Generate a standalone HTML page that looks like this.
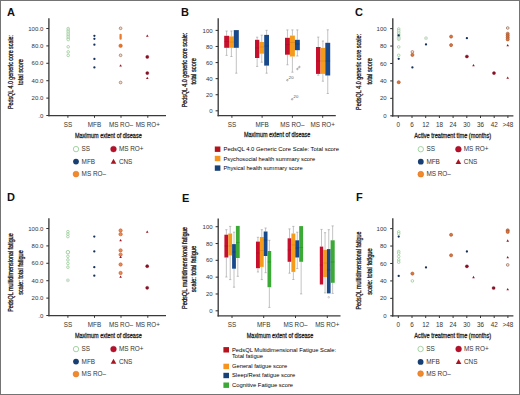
<!DOCTYPE html>
<html><head><meta charset="utf-8"><style>
html,body{margin:0;padding:0;background:#fff;}
svg{display:block;}
text{font-family:"Liberation Sans",sans-serif;}
</style></head><body>
<svg width="520" height="395" viewBox="0 0 520 395">
<rect x="0.5" y="0.5" width="519" height="394" fill="#fff" stroke="#747474" stroke-width="1"/>
<text x="7.00" y="15.80" font-size="11" font-weight="bold" fill="#111">A</text>
<text x="181.00" y="15.80" font-size="11" font-weight="bold" fill="#111">B</text>
<text x="355.00" y="15.80" font-size="11" font-weight="bold" fill="#111">C</text>
<text x="7.00" y="201.30" font-size="11" font-weight="bold" fill="#111">D</text>
<text x="182.00" y="201.60" font-size="11" font-weight="bold" fill="#111">E</text>
<text x="356.00" y="201.40" font-size="11" font-weight="bold" fill="#111">F</text>
<line x1="48.90" y1="18.30" x2="48.90" y2="116.20" stroke="#3a3a3a" stroke-width="1.35"/>
<line x1="46.30" y1="28.50" x2="48.90" y2="28.50" stroke="#333" stroke-width="1.05"/>
<text x="43.30" y="30.60" font-size="6" text-anchor="end" fill="#333">100.0</text>
<line x1="46.30" y1="45.90" x2="48.90" y2="45.90" stroke="#333" stroke-width="1.05"/>
<text x="43.30" y="48.00" font-size="6" text-anchor="end" fill="#333">80.0</text>
<line x1="46.30" y1="63.30" x2="48.90" y2="63.30" stroke="#333" stroke-width="1.05"/>
<text x="43.30" y="65.40" font-size="6" text-anchor="end" fill="#333">60.0</text>
<line x1="46.30" y1="80.70" x2="48.90" y2="80.70" stroke="#333" stroke-width="1.05"/>
<text x="43.30" y="82.80" font-size="6" text-anchor="end" fill="#333">40.0</text>
<line x1="46.30" y1="98.10" x2="48.90" y2="98.10" stroke="#333" stroke-width="1.05"/>
<text x="43.30" y="100.20" font-size="6" text-anchor="end" fill="#333">20.0</text>
<line x1="46.30" y1="115.50" x2="48.90" y2="115.50" stroke="#333" stroke-width="1.05"/>
<text x="43.30" y="117.60" font-size="6" text-anchor="end" fill="#333">.0</text>
<line x1="48.30" y1="115.60" x2="166.00" y2="115.60" stroke="#3a3a3a" stroke-width="1.35"/>
<line x1="67.90" y1="115.60" x2="67.90" y2="117.80" stroke="#333" stroke-width="1.0"/>
<text x="67.90" y="127.30" font-size="6.3" text-anchor="middle" fill="#333">SS</text>
<line x1="94.50" y1="115.60" x2="94.50" y2="117.80" stroke="#333" stroke-width="1.0"/>
<text x="94.50" y="127.30" font-size="6.3" text-anchor="middle" fill="#333">MFB</text>
<line x1="121.00" y1="115.60" x2="121.00" y2="117.80" stroke="#333" stroke-width="1.0"/>
<text x="121.00" y="127.30" font-size="6.3" text-anchor="middle" fill="#333">MS RO–</text>
<line x1="147.80" y1="115.60" x2="147.80" y2="117.80" stroke="#333" stroke-width="1.0"/>
<text x="147.80" y="127.30" font-size="6.3" text-anchor="middle" fill="#333">MS RO+</text>
<text x="74.90" y="137.60" font-size="7.8" fill="#1e1e1e" stroke="#1e1e1e" stroke-width="0.3" textLength="66.80" lengthAdjust="spacingAndGlyphs">Maximum extent of disease</text>
<g transform="translate(13.40 72.00) rotate(-90)"><text x="0" y="0" font-size="7.0" text-anchor="middle" fill="#222" stroke="#222" stroke-width="0.32" textLength="74.00" lengthAdjust="spacingAndGlyphs">PedsQL 4.0 generic core scale:</text></g>
<g transform="translate(22.80 72.00) rotate(-90)"><text x="0" y="0" font-size="7.0" text-anchor="middle" fill="#222" stroke="#222" stroke-width="0.32" textLength="26.00" lengthAdjust="spacingAndGlyphs">total score</text></g>
<circle cx="68.20" cy="28.60" r="1.30" fill="#ffffff" stroke="#90c890" stroke-width="0.75"/>
<circle cx="68.20" cy="30.20" r="1.30" fill="#ffffff" stroke="#90c890" stroke-width="0.75"/>
<circle cx="68.20" cy="31.80" r="1.30" fill="#ffffff" stroke="#90c890" stroke-width="0.75"/>
<circle cx="68.20" cy="33.40" r="1.30" fill="#ffffff" stroke="#90c890" stroke-width="0.75"/>
<circle cx="68.20" cy="35.00" r="1.30" fill="#ffffff" stroke="#90c890" stroke-width="0.75"/>
<circle cx="68.20" cy="36.60" r="1.30" fill="#ffffff" stroke="#90c890" stroke-width="0.75"/>
<circle cx="68.20" cy="38.20" r="1.30" fill="#ffffff" stroke="#90c890" stroke-width="0.75"/>
<circle cx="68.20" cy="39.60" r="1.30" fill="#ffffff" stroke="#90c890" stroke-width="0.75"/>
<circle cx="68.20" cy="46.80" r="1.30" fill="#ffffff" stroke="#90c890" stroke-width="0.75"/>
<circle cx="68.20" cy="51.90" r="1.30" fill="#ffffff" stroke="#90c890" stroke-width="0.75"/>
<circle cx="68.20" cy="55.40" r="1.30" fill="#ffffff" stroke="#90c890" stroke-width="0.75"/>
<circle cx="94.40" cy="35.80" r="1.15" fill="#172f5c"/>
<circle cx="94.40" cy="38.80" r="1.15" fill="#172f5c"/>
<circle cx="94.40" cy="44.70" r="1.15" fill="#172f5c"/>
<circle cx="94.40" cy="58.90" r="1.15" fill="#172f5c"/>
<circle cx="94.40" cy="67.40" r="1.15" fill="#172f5c"/>
<circle cx="120.60" cy="28.30" r="1.35" fill="#f6dccb" stroke="#9c7462" stroke-width="0.75"/>
<circle cx="120.60" cy="34.90" r="1.15" fill="#ea7a2c"/>
<circle cx="120.60" cy="36.20" r="1.15" fill="#ea7a2c"/>
<circle cx="120.60" cy="37.50" r="1.15" fill="#ea7a2c"/>
<circle cx="120.60" cy="38.70" r="1.15" fill="#ea7a2c"/>
<circle cx="120.60" cy="45.80" r="1.75" fill="#ec7424" stroke="#c8561c" stroke-width="0.5"/>
<circle cx="120.60" cy="55.30" r="1.35" fill="#f6dccb" stroke="#9c7462" stroke-width="0.75"/>
<polygon points="120.60,64.23 121.90,66.57 119.30,66.57" fill="#9b1420"/>
<circle cx="120.60" cy="82.50" r="1.35" fill="#f6dccb" stroke="#9c7462" stroke-width="0.75"/>
<polygon points="147.30,34.43 148.60,36.77 146.00,36.77" fill="#9b1420"/>
<circle cx="147.30" cy="56.90" r="1.60" fill="#8e0f25" stroke="#6a0a1a" stroke-width="0.3"/>
<circle cx="147.30" cy="73.10" r="1.60" fill="#8e0f25" stroke="#6a0a1a" stroke-width="0.3"/>
<polygon points="147.30,76.63 148.60,78.97 146.00,78.97" fill="#9b1420"/>
<circle cx="76.00" cy="149.10" r="2.70" fill="#fff" stroke="#94cc94" stroke-width="0.85"/>
<text x="81.60" y="151.30" font-size="6.4" fill="#333">SS</text>
<circle cx="113.50" cy="149.10" r="2.90" fill="#b8102a" stroke="#8a0a20" stroke-width="0.4"/>
<text x="118.90" y="151.30" font-size="6.4" fill="#333">MS RO+</text>
<circle cx="76.00" cy="161.60" r="2.90" fill="#183f74"/>
<text x="81.60" y="163.80" font-size="6.4" fill="#333">MFB</text>
<polygon points="113.50,158.78 116.30,163.82 110.70,163.82" fill="#a8141f"/>
<text x="118.90" y="163.80" font-size="6.4" fill="#333">CNS</text>
<circle cx="76.00" cy="174.10" r="2.90" fill="#f08a2a" stroke="#e06a20" stroke-width="0.5"/>
<text x="81.60" y="176.30" font-size="6.4" fill="#333">MS RO–</text>
<line x1="48.90" y1="218.30" x2="48.90" y2="316.20" stroke="#3a3a3a" stroke-width="1.35"/>
<line x1="46.30" y1="228.50" x2="48.90" y2="228.50" stroke="#333" stroke-width="1.05"/>
<text x="43.30" y="230.60" font-size="6" text-anchor="end" fill="#333">100.0</text>
<line x1="46.30" y1="245.90" x2="48.90" y2="245.90" stroke="#333" stroke-width="1.05"/>
<text x="43.30" y="248.00" font-size="6" text-anchor="end" fill="#333">80.0</text>
<line x1="46.30" y1="263.30" x2="48.90" y2="263.30" stroke="#333" stroke-width="1.05"/>
<text x="43.30" y="265.40" font-size="6" text-anchor="end" fill="#333">60.0</text>
<line x1="46.30" y1="280.70" x2="48.90" y2="280.70" stroke="#333" stroke-width="1.05"/>
<text x="43.30" y="282.80" font-size="6" text-anchor="end" fill="#333">40.0</text>
<line x1="46.30" y1="298.10" x2="48.90" y2="298.10" stroke="#333" stroke-width="1.05"/>
<text x="43.30" y="300.20" font-size="6" text-anchor="end" fill="#333">20.0</text>
<line x1="46.30" y1="315.50" x2="48.90" y2="315.50" stroke="#333" stroke-width="1.05"/>
<text x="43.30" y="317.60" font-size="6" text-anchor="end" fill="#333">.0</text>
<line x1="48.30" y1="315.60" x2="166.00" y2="315.60" stroke="#3a3a3a" stroke-width="1.35"/>
<line x1="67.90" y1="315.60" x2="67.90" y2="317.80" stroke="#333" stroke-width="1.0"/>
<text x="67.90" y="327.30" font-size="6.3" text-anchor="middle" fill="#333">SS</text>
<line x1="94.50" y1="315.60" x2="94.50" y2="317.80" stroke="#333" stroke-width="1.0"/>
<text x="94.50" y="327.30" font-size="6.3" text-anchor="middle" fill="#333">MFB</text>
<line x1="121.00" y1="315.60" x2="121.00" y2="317.80" stroke="#333" stroke-width="1.0"/>
<text x="121.00" y="327.30" font-size="6.3" text-anchor="middle" fill="#333">MS RO–</text>
<line x1="147.80" y1="315.60" x2="147.80" y2="317.80" stroke="#333" stroke-width="1.0"/>
<text x="147.80" y="327.30" font-size="6.3" text-anchor="middle" fill="#333">MS RO+</text>
<text x="74.90" y="337.60" font-size="7.8" fill="#1e1e1e" stroke="#1e1e1e" stroke-width="0.3" textLength="66.80" lengthAdjust="spacingAndGlyphs">Maximum extent of disease</text>
<g transform="translate(13.40 272.50) rotate(-90)"><text x="0" y="0" font-size="7.0" text-anchor="middle" fill="#222" stroke="#222" stroke-width="0.32" textLength="78.60" lengthAdjust="spacingAndGlyphs">PedsQL multidimensional fatigue</text></g>
<g transform="translate(22.80 272.50) rotate(-90)"><text x="0" y="0" font-size="7.0" text-anchor="middle" fill="#222" stroke="#222" stroke-width="0.32" textLength="44.40" lengthAdjust="spacingAndGlyphs">scale: total fatigue</text></g>
<circle cx="67.90" cy="231.70" r="1.30" fill="#ffffff" stroke="#90c890" stroke-width="0.75"/>
<circle cx="67.90" cy="234.20" r="1.30" fill="#ffffff" stroke="#90c890" stroke-width="0.75"/>
<circle cx="67.90" cy="236.60" r="1.30" fill="#ffffff" stroke="#90c890" stroke-width="0.75"/>
<circle cx="67.90" cy="252.20" r="1.75" fill="#ffffff" stroke="#8cc28c" stroke-width="0.8"/>
<circle cx="67.90" cy="256.30" r="1.30" fill="#ffffff" stroke="#90c890" stroke-width="0.75"/>
<circle cx="67.90" cy="259.90" r="1.30" fill="#ffffff" stroke="#90c890" stroke-width="0.75"/>
<circle cx="67.90" cy="263.50" r="1.30" fill="#ffffff" stroke="#90c890" stroke-width="0.75"/>
<circle cx="67.90" cy="267.20" r="1.30" fill="#ffffff" stroke="#90c890" stroke-width="0.75"/>
<circle cx="67.90" cy="280.30" r="1.60" fill="#d2e2d2" stroke="#bcd8bc" stroke-width="0.5"/>
<circle cx="94.30" cy="236.60" r="1.15" fill="#172f5c"/>
<circle cx="94.30" cy="251.40" r="1.15" fill="#172f5c"/>
<circle cx="94.30" cy="267.20" r="1.15" fill="#172f5c"/>
<circle cx="94.30" cy="275.70" r="1.15" fill="#172f5c"/>
<circle cx="120.60" cy="230.50" r="1.65" fill="#ee8c50" stroke="#b8542e" stroke-width="0.6"/>
<circle cx="120.60" cy="234.20" r="1.65" fill="#ee8c50" stroke="#b8542e" stroke-width="0.6"/>
<polygon points="120.60,239.03 121.90,241.37 119.30,241.37" fill="#9b1420"/>
<circle cx="120.60" cy="250.40" r="1.65" fill="#ee8c50" stroke="#b8542e" stroke-width="0.6"/>
<circle cx="120.60" cy="254.60" r="1.65" fill="#ee8c50" stroke="#b8542e" stroke-width="0.6"/>
<polygon points="120.60,255.63 121.90,257.97 119.30,257.97" fill="#9b1420"/>
<circle cx="120.60" cy="264.50" r="1.65" fill="#ee8c50" stroke="#b8542e" stroke-width="0.6"/>
<circle cx="120.60" cy="273.00" r="1.65" fill="#ee8c50" stroke="#b8542e" stroke-width="0.6"/>
<polygon points="120.60,275.53 121.90,277.87 119.30,277.87" fill="#9b1420"/>
<polygon points="147.20,230.53 148.50,232.87 145.90,232.87" fill="#9b1420"/>
<circle cx="147.20" cy="266.20" r="1.60" fill="#8e0f25" stroke="#6a0a1a" stroke-width="0.3"/>
<circle cx="147.20" cy="287.80" r="1.60" fill="#8e0f25" stroke="#6a0a1a" stroke-width="0.3"/>
<circle cx="76.00" cy="349.10" r="2.70" fill="#fff" stroke="#94cc94" stroke-width="0.85"/>
<text x="81.60" y="351.30" font-size="6.4" fill="#333">SS</text>
<circle cx="113.50" cy="349.10" r="2.90" fill="#b8102a" stroke="#8a0a20" stroke-width="0.4"/>
<text x="118.90" y="351.30" font-size="6.4" fill="#333">MS RO+</text>
<circle cx="76.00" cy="361.60" r="2.90" fill="#183f74"/>
<text x="81.60" y="363.80" font-size="6.4" fill="#333">MFB</text>
<polygon points="113.50,358.78 116.30,363.82 110.70,363.82" fill="#a8141f"/>
<text x="118.90" y="363.80" font-size="6.4" fill="#333">CNS</text>
<circle cx="76.00" cy="374.10" r="2.90" fill="#f08a2a" stroke="#e06a20" stroke-width="0.5"/>
<text x="81.60" y="376.30" font-size="6.4" fill="#333">MS RO–</text>
<line x1="392.80" y1="18.30" x2="392.80" y2="116.40" stroke="#3a3a3a" stroke-width="1.35"/>
<line x1="390.20" y1="28.60" x2="392.80" y2="28.60" stroke="#333" stroke-width="1.05"/>
<text x="386.60" y="30.70" font-size="6" text-anchor="end" fill="#333">100</text>
<line x1="390.20" y1="46.04" x2="392.80" y2="46.04" stroke="#333" stroke-width="1.05"/>
<text x="386.60" y="48.14" font-size="6" text-anchor="end" fill="#333">80</text>
<line x1="390.20" y1="63.48" x2="392.80" y2="63.48" stroke="#333" stroke-width="1.05"/>
<text x="386.60" y="65.58" font-size="6" text-anchor="end" fill="#333">60</text>
<line x1="390.20" y1="80.92" x2="392.80" y2="80.92" stroke="#333" stroke-width="1.05"/>
<text x="386.60" y="83.02" font-size="6" text-anchor="end" fill="#333">40</text>
<line x1="390.20" y1="98.36" x2="392.80" y2="98.36" stroke="#333" stroke-width="1.05"/>
<text x="386.60" y="100.46" font-size="6" text-anchor="end" fill="#333">20</text>
<line x1="390.20" y1="115.80" x2="392.80" y2="115.80" stroke="#333" stroke-width="1.05"/>
<text x="386.60" y="117.90" font-size="6" text-anchor="end" fill="#333">0</text>
<line x1="391.80" y1="115.80" x2="513.40" y2="115.80" stroke="#3a3a3a" stroke-width="1.35"/>
<line x1="398.30" y1="115.80" x2="398.30" y2="118.00" stroke="#333" stroke-width="1.0"/>
<text x="398.30" y="127.30" font-size="6.3" text-anchor="middle" fill="#333">0</text>
<line x1="412.00" y1="115.80" x2="412.00" y2="118.00" stroke="#333" stroke-width="1.0"/>
<text x="412.00" y="127.30" font-size="6.3" text-anchor="middle" fill="#333">6</text>
<line x1="425.70" y1="115.80" x2="425.70" y2="118.00" stroke="#333" stroke-width="1.0"/>
<text x="425.70" y="127.30" font-size="6.3" text-anchor="middle" fill="#333">12</text>
<line x1="439.40" y1="115.80" x2="439.40" y2="118.00" stroke="#333" stroke-width="1.0"/>
<text x="439.40" y="127.30" font-size="6.3" text-anchor="middle" fill="#333">18</text>
<line x1="453.10" y1="115.80" x2="453.10" y2="118.00" stroke="#333" stroke-width="1.0"/>
<text x="453.10" y="127.30" font-size="6.3" text-anchor="middle" fill="#333">24</text>
<line x1="466.80" y1="115.80" x2="466.80" y2="118.00" stroke="#333" stroke-width="1.0"/>
<text x="466.80" y="127.30" font-size="6.3" text-anchor="middle" fill="#333">30</text>
<line x1="480.50" y1="115.80" x2="480.50" y2="118.00" stroke="#333" stroke-width="1.0"/>
<text x="480.50" y="127.30" font-size="6.3" text-anchor="middle" fill="#333">36</text>
<line x1="494.20" y1="115.80" x2="494.20" y2="118.00" stroke="#333" stroke-width="1.0"/>
<text x="494.20" y="127.30" font-size="6.3" text-anchor="middle" fill="#333">42</text>
<line x1="507.90" y1="115.80" x2="507.90" y2="118.00" stroke="#333" stroke-width="1.0"/>
<text x="507.90" y="127.30" font-size="6.3" text-anchor="middle" fill="#333">&gt;48</text>
<text x="414.30" y="137.70" font-size="7.8" fill="#1e1e1e" stroke="#1e1e1e" stroke-width="0.3" textLength="76.80" lengthAdjust="spacingAndGlyphs">Active treatment time (months)</text>
<g transform="translate(361.20 71.90) rotate(-90)"><text x="0" y="0" font-size="7.0" text-anchor="middle" fill="#222" stroke="#222" stroke-width="0.32" textLength="76.00" lengthAdjust="spacingAndGlyphs">PedsQL 4.0 generic core scale:</text></g>
<g transform="translate(371.80 71.30) rotate(-90)"><text x="0" y="0" font-size="7.0" text-anchor="middle" fill="#222" stroke="#222" stroke-width="0.32" textLength="26.60" lengthAdjust="spacingAndGlyphs">total score</text></g>
<circle cx="398.70" cy="29.00" r="1.30" fill="#ffffff" stroke="#90c890" stroke-width="0.75"/>
<circle cx="398.70" cy="30.70" r="1.30" fill="#ffffff" stroke="#90c890" stroke-width="0.75"/>
<circle cx="398.70" cy="32.40" r="1.30" fill="#ffffff" stroke="#90c890" stroke-width="0.75"/>
<circle cx="398.70" cy="34.10" r="1.30" fill="#ffffff" stroke="#90c890" stroke-width="0.75"/>
<circle cx="398.70" cy="35.80" r="1.30" fill="#ffffff" stroke="#90c890" stroke-width="0.75"/>
<circle cx="398.70" cy="37.50" r="1.30" fill="#ffffff" stroke="#90c890" stroke-width="0.75"/>
<circle cx="398.70" cy="39.20" r="1.30" fill="#ffffff" stroke="#90c890" stroke-width="0.75"/>
<circle cx="398.70" cy="35.50" r="1.15" fill="#172f5c"/>
<circle cx="398.70" cy="38.40" r="1.60" fill="#d2e2d2" stroke="#bcd8bc" stroke-width="0.5"/>
<circle cx="398.70" cy="46.90" r="1.30" fill="#ffffff" stroke="#90c890" stroke-width="0.75"/>
<circle cx="398.70" cy="55.30" r="1.30" fill="#ffffff" stroke="#90c890" stroke-width="0.75"/>
<circle cx="398.70" cy="58.80" r="1.15" fill="#172f5c"/>
<circle cx="398.70" cy="82.20" r="1.55" fill="#de7638" stroke="#a4502c" stroke-width="0.6"/>
<circle cx="412.40" cy="51.90" r="1.35" fill="#f6dccb" stroke="#9c7462" stroke-width="0.75"/>
<circle cx="412.40" cy="54.90" r="1.55" fill="#de7638" stroke="#a4502c" stroke-width="0.6"/>
<circle cx="412.40" cy="67.40" r="1.15" fill="#172f5c"/>
<circle cx="426.00" cy="38.20" r="1.60" fill="#d2e2d2" stroke="#bcd8bc" stroke-width="0.5"/>
<circle cx="426.00" cy="44.40" r="1.15" fill="#172f5c"/>
<circle cx="451.10" cy="36.60" r="1.55" fill="#de7638" stroke="#a4502c" stroke-width="0.6"/>
<circle cx="451.10" cy="45.10" r="1.55" fill="#de7638" stroke="#a4502c" stroke-width="0.6"/>
<circle cx="466.90" cy="38.20" r="1.15" fill="#172f5c"/>
<circle cx="466.90" cy="56.50" r="1.60" fill="#8e0f25" stroke="#6a0a1a" stroke-width="0.3"/>
<polygon points="473.50,63.93 474.80,66.27 472.20,66.27" fill="#9b1420"/>
<circle cx="494.00" cy="73.10" r="1.60" fill="#8e0f25" stroke="#6a0a1a" stroke-width="0.3"/>
<circle cx="507.70" cy="28.00" r="1.35" fill="#f6dccb" stroke="#9c7462" stroke-width="0.75"/>
<circle cx="507.70" cy="33.70" r="1.55" fill="#de7638" stroke="#a4502c" stroke-width="0.6"/>
<circle cx="507.70" cy="35.60" r="1.55" fill="#de7638" stroke="#a4502c" stroke-width="0.6"/>
<circle cx="507.70" cy="37.50" r="1.55" fill="#de7638" stroke="#a4502c" stroke-width="0.6"/>
<circle cx="507.70" cy="39.40" r="1.55" fill="#de7638" stroke="#a4502c" stroke-width="0.6"/>
<polygon points="507.70,43.93 509.00,46.27 506.40,46.27" fill="#9b1420"/>
<polygon points="507.70,76.53 509.00,78.87 506.40,78.87" fill="#9b1420"/>
<circle cx="420.80" cy="149.20" r="2.70" fill="#fff" stroke="#94cc94" stroke-width="0.85"/>
<text x="426.40" y="151.40" font-size="6.4" fill="#333">SS</text>
<circle cx="458.40" cy="149.20" r="2.90" fill="#b8102a" stroke="#8a0a20" stroke-width="0.4"/>
<text x="463.80" y="151.40" font-size="6.4" fill="#333">MS RO+</text>
<circle cx="420.80" cy="161.70" r="2.90" fill="#183f74"/>
<text x="426.40" y="163.90" font-size="6.4" fill="#333">MFB</text>
<polygon points="458.40,158.88 461.20,163.92 455.60,163.92" fill="#a8141f"/>
<text x="463.80" y="163.90" font-size="6.4" fill="#333">CNS</text>
<circle cx="420.80" cy="174.20" r="2.90" fill="#f08a2a" stroke="#e06a20" stroke-width="0.5"/>
<text x="426.40" y="176.40" font-size="6.4" fill="#333">MS RO–</text>
<line x1="392.80" y1="218.30" x2="392.80" y2="316.40" stroke="#3a3a3a" stroke-width="1.35"/>
<line x1="390.20" y1="228.60" x2="392.80" y2="228.60" stroke="#333" stroke-width="1.05"/>
<text x="386.60" y="230.70" font-size="6" text-anchor="end" fill="#333">100</text>
<line x1="390.20" y1="246.04" x2="392.80" y2="246.04" stroke="#333" stroke-width="1.05"/>
<text x="386.60" y="248.14" font-size="6" text-anchor="end" fill="#333">80</text>
<line x1="390.20" y1="263.48" x2="392.80" y2="263.48" stroke="#333" stroke-width="1.05"/>
<text x="386.60" y="265.58" font-size="6" text-anchor="end" fill="#333">60</text>
<line x1="390.20" y1="280.92" x2="392.80" y2="280.92" stroke="#333" stroke-width="1.05"/>
<text x="386.60" y="283.02" font-size="6" text-anchor="end" fill="#333">40</text>
<line x1="390.20" y1="298.36" x2="392.80" y2="298.36" stroke="#333" stroke-width="1.05"/>
<text x="386.60" y="300.46" font-size="6" text-anchor="end" fill="#333">20</text>
<line x1="390.20" y1="315.80" x2="392.80" y2="315.80" stroke="#333" stroke-width="1.05"/>
<text x="386.60" y="317.90" font-size="6" text-anchor="end" fill="#333">0</text>
<line x1="391.80" y1="315.80" x2="513.40" y2="315.80" stroke="#3a3a3a" stroke-width="1.35"/>
<line x1="398.30" y1="315.80" x2="398.30" y2="318.00" stroke="#333" stroke-width="1.0"/>
<text x="398.30" y="327.30" font-size="6.3" text-anchor="middle" fill="#333">0</text>
<line x1="412.00" y1="315.80" x2="412.00" y2="318.00" stroke="#333" stroke-width="1.0"/>
<text x="412.00" y="327.30" font-size="6.3" text-anchor="middle" fill="#333">6</text>
<line x1="425.70" y1="315.80" x2="425.70" y2="318.00" stroke="#333" stroke-width="1.0"/>
<text x="425.70" y="327.30" font-size="6.3" text-anchor="middle" fill="#333">12</text>
<line x1="439.40" y1="315.80" x2="439.40" y2="318.00" stroke="#333" stroke-width="1.0"/>
<text x="439.40" y="327.30" font-size="6.3" text-anchor="middle" fill="#333">18</text>
<line x1="453.10" y1="315.80" x2="453.10" y2="318.00" stroke="#333" stroke-width="1.0"/>
<text x="453.10" y="327.30" font-size="6.3" text-anchor="middle" fill="#333">24</text>
<line x1="466.80" y1="315.80" x2="466.80" y2="318.00" stroke="#333" stroke-width="1.0"/>
<text x="466.80" y="327.30" font-size="6.3" text-anchor="middle" fill="#333">30</text>
<line x1="480.50" y1="315.80" x2="480.50" y2="318.00" stroke="#333" stroke-width="1.0"/>
<text x="480.50" y="327.30" font-size="6.3" text-anchor="middle" fill="#333">36</text>
<line x1="494.20" y1="315.80" x2="494.20" y2="318.00" stroke="#333" stroke-width="1.0"/>
<text x="494.20" y="327.30" font-size="6.3" text-anchor="middle" fill="#333">42</text>
<line x1="507.90" y1="315.80" x2="507.90" y2="318.00" stroke="#333" stroke-width="1.0"/>
<text x="507.90" y="327.30" font-size="6.3" text-anchor="middle" fill="#333">&gt;48</text>
<text x="414.30" y="337.90" font-size="7.8" fill="#1e1e1e" stroke="#1e1e1e" stroke-width="0.3" textLength="76.80" lengthAdjust="spacingAndGlyphs">Active treatment time (months)</text>
<g transform="translate(361.20 270.50) rotate(-90)"><text x="0" y="0" font-size="7.0" text-anchor="middle" fill="#222" stroke="#222" stroke-width="0.32" textLength="78.00" lengthAdjust="spacingAndGlyphs">PedsQL multidimensional fatigue</text></g>
<g transform="translate(371.80 271.50) rotate(-90)"><text x="0" y="0" font-size="7.0" text-anchor="middle" fill="#222" stroke="#222" stroke-width="0.32" textLength="46.60" lengthAdjust="spacingAndGlyphs">scale: total fatigue</text></g>
<circle cx="398.70" cy="231.90" r="1.30" fill="#ffffff" stroke="#90c890" stroke-width="0.75"/>
<circle cx="398.70" cy="233.70" r="1.30" fill="#ffffff" stroke="#90c890" stroke-width="0.75"/>
<circle cx="398.70" cy="236.60" r="1.15" fill="#172f5c"/>
<circle cx="398.70" cy="251.50" r="1.30" fill="#ffffff" stroke="#90c890" stroke-width="0.75"/>
<circle cx="398.70" cy="253.20" r="1.30" fill="#ffffff" stroke="#90c890" stroke-width="0.75"/>
<circle cx="398.70" cy="256.50" r="1.30" fill="#ffffff" stroke="#90c890" stroke-width="0.75"/>
<circle cx="398.70" cy="259.90" r="1.30" fill="#ffffff" stroke="#90c890" stroke-width="0.75"/>
<circle cx="398.70" cy="262.20" r="1.30" fill="#ffffff" stroke="#90c890" stroke-width="0.75"/>
<circle cx="398.70" cy="275.90" r="1.15" fill="#172f5c"/>
<circle cx="412.40" cy="273.60" r="1.55" fill="#de7638" stroke="#a4502c" stroke-width="0.6"/>
<circle cx="412.40" cy="280.90" r="1.30" fill="#ffffff" stroke="#90c890" stroke-width="0.75"/>
<circle cx="426.00" cy="267.40" r="1.15" fill="#172f5c"/>
<circle cx="451.10" cy="234.80" r="1.55" fill="#de7638" stroke="#a4502c" stroke-width="0.6"/>
<circle cx="451.10" cy="255.30" r="1.55" fill="#de7638" stroke="#a4502c" stroke-width="0.6"/>
<circle cx="466.90" cy="251.50" r="1.15" fill="#172f5c"/>
<circle cx="466.90" cy="266.30" r="1.60" fill="#8e0f25" stroke="#6a0a1a" stroke-width="0.3"/>
<polygon points="473.50,275.83 474.80,278.17 472.20,278.17" fill="#9b1420"/>
<circle cx="493.60" cy="288.00" r="1.60" fill="#8e0f25" stroke="#6a0a1a" stroke-width="0.3"/>
<circle cx="507.70" cy="230.30" r="1.55" fill="#de7638" stroke="#a4502c" stroke-width="0.6"/>
<circle cx="507.70" cy="231.90" r="1.55" fill="#de7638" stroke="#a4502c" stroke-width="0.6"/>
<polygon points="507.70,239.33 509.00,241.67 506.40,241.67" fill="#9b1420"/>
<polygon points="507.70,256.03 509.00,258.37 506.40,258.37" fill="#9b1420"/>
<circle cx="507.70" cy="264.90" r="1.35" fill="#f6dccb" stroke="#9c7462" stroke-width="0.75"/>
<polygon points="507.70,287.93 509.00,290.27 506.40,290.27" fill="#9b1420"/>
<circle cx="420.60" cy="349.00" r="2.70" fill="#fff" stroke="#94cc94" stroke-width="0.85"/>
<text x="426.20" y="351.20" font-size="6.4" fill="#333">SS</text>
<circle cx="458.60" cy="349.00" r="2.90" fill="#b8102a" stroke="#8a0a20" stroke-width="0.4"/>
<text x="464.00" y="351.20" font-size="6.4" fill="#333">MS RO+</text>
<circle cx="420.60" cy="361.90" r="2.90" fill="#183f74"/>
<text x="426.20" y="364.10" font-size="6.4" fill="#333">MFB</text>
<polygon points="458.60,359.08 461.40,364.12 455.80,364.12" fill="#a8141f"/>
<text x="464.00" y="364.10" font-size="6.4" fill="#333">CNS</text>
<circle cx="420.60" cy="373.60" r="2.90" fill="#f08a2a" stroke="#e06a20" stroke-width="0.5"/>
<text x="426.20" y="375.80" font-size="6.4" fill="#333">MS RO–</text>
<line x1="218.20" y1="18.30" x2="218.20" y2="116.20" stroke="#3a3a3a" stroke-width="1.35"/>
<line x1="215.60" y1="30.40" x2="218.20" y2="30.40" stroke="#333" stroke-width="1.05"/>
<text x="212.60" y="32.50" font-size="6" text-anchor="end" fill="#333">100</text>
<line x1="215.60" y1="46.48" x2="218.20" y2="46.48" stroke="#333" stroke-width="1.05"/>
<text x="212.60" y="48.58" font-size="6" text-anchor="end" fill="#333">80</text>
<line x1="215.60" y1="62.56" x2="218.20" y2="62.56" stroke="#333" stroke-width="1.05"/>
<text x="212.60" y="64.66" font-size="6" text-anchor="end" fill="#333">60</text>
<line x1="215.60" y1="78.64" x2="218.20" y2="78.64" stroke="#333" stroke-width="1.05"/>
<text x="212.60" y="80.74" font-size="6" text-anchor="end" fill="#333">40</text>
<line x1="215.60" y1="94.72" x2="218.20" y2="94.72" stroke="#333" stroke-width="1.05"/>
<text x="212.60" y="96.82" font-size="6" text-anchor="end" fill="#333">20</text>
<line x1="215.60" y1="110.80" x2="218.20" y2="110.80" stroke="#333" stroke-width="1.05"/>
<text x="212.60" y="112.90" font-size="6" text-anchor="end" fill="#333">0</text>
<line x1="217.60" y1="115.60" x2="335.80" y2="115.60" stroke="#3a3a3a" stroke-width="1.35"/>
<line x1="231.90" y1="115.60" x2="231.90" y2="117.80" stroke="#333" stroke-width="1.0"/>
<text x="231.90" y="127.30" font-size="6.3" text-anchor="middle" fill="#333">SS</text>
<line x1="262.10" y1="115.60" x2="262.10" y2="117.80" stroke="#333" stroke-width="1.0"/>
<text x="262.10" y="127.30" font-size="6.3" text-anchor="middle" fill="#333">MFB</text>
<line x1="292.40" y1="115.60" x2="292.40" y2="117.80" stroke="#333" stroke-width="1.0"/>
<text x="292.40" y="127.30" font-size="6.3" text-anchor="middle" fill="#333">MS RO–</text>
<line x1="322.70" y1="115.60" x2="322.70" y2="117.80" stroke="#333" stroke-width="1.0"/>
<text x="322.70" y="127.30" font-size="6.3" text-anchor="middle" fill="#333">MS RO+</text>
<text x="243.90" y="137.40" font-size="7.8" fill="#1e1e1e" stroke="#1e1e1e" stroke-width="0.3" textLength="66.40" lengthAdjust="spacingAndGlyphs">Maximum extent of disease</text>
<g transform="translate(187.30 70.00) rotate(-90)"><text x="0" y="0" font-size="7.0" text-anchor="middle" fill="#222" stroke="#222" stroke-width="0.32" textLength="74.60" lengthAdjust="spacingAndGlyphs">PedsQL 4.0 generic core scale:</text></g>
<g transform="translate(195.50 71.30) rotate(-90)"><text x="0" y="0" font-size="7.0" text-anchor="middle" fill="#222" stroke="#222" stroke-width="0.32" textLength="26.60" lengthAdjust="spacingAndGlyphs">total score</text></g>
<line x1="226.60" y1="31.00" x2="226.60" y2="35.80" stroke="#9a9a9a" stroke-width="0.6"/>
<line x1="225.50" y1="31.00" x2="227.70" y2="31.00" stroke="#9a9a9a" stroke-width="0.6"/>
<line x1="226.60" y1="47.80" x2="226.60" y2="55.40" stroke="#9a9a9a" stroke-width="0.6"/>
<line x1="225.50" y1="55.40" x2="227.70" y2="55.40" stroke="#9a9a9a" stroke-width="0.6"/>
<rect x="224.20" y="35.80" width="4.80" height="12.00" fill="#c50f2c"/>
<line x1="224.20" y1="41.50" x2="229.00" y2="41.50" stroke="#8a0a1a" stroke-width="0.45" stroke-opacity="0.6"/>
<line x1="231.40" y1="31.00" x2="231.40" y2="36.40" stroke="#9a9a9a" stroke-width="0.6"/>
<line x1="230.30" y1="31.00" x2="232.50" y2="31.00" stroke="#9a9a9a" stroke-width="0.6"/>
<line x1="231.40" y1="47.80" x2="231.40" y2="56.50" stroke="#9a9a9a" stroke-width="0.6"/>
<line x1="230.30" y1="56.50" x2="232.50" y2="56.50" stroke="#9a9a9a" stroke-width="0.6"/>
<rect x="229.00" y="36.40" width="4.80" height="11.40" fill="#f59b1c"/>
<line x1="229.00" y1="42.00" x2="233.80" y2="42.00" stroke="#b06010" stroke-width="0.45" stroke-opacity="0.6"/>
<line x1="236.30" y1="47.80" x2="236.30" y2="73.20" stroke="#9a9a9a" stroke-width="0.6"/>
<line x1="235.20" y1="73.20" x2="237.40" y2="73.20" stroke="#9a9a9a" stroke-width="0.6"/>
<rect x="233.80" y="30.20" width="5.00" height="17.60" fill="#18498a"/>
<line x1="233.80" y1="30.60" x2="238.80" y2="30.60" stroke="#0a2a50" stroke-width="0.45" stroke-opacity="0.6"/>
<line x1="257.15" y1="37.20" x2="257.15" y2="39.80" stroke="#9a9a9a" stroke-width="0.6"/>
<line x1="256.05" y1="37.20" x2="258.25" y2="37.20" stroke="#9a9a9a" stroke-width="0.6"/>
<line x1="257.15" y1="58.00" x2="257.15" y2="66.40" stroke="#9a9a9a" stroke-width="0.6"/>
<line x1="256.05" y1="66.40" x2="258.25" y2="66.40" stroke="#9a9a9a" stroke-width="0.6"/>
<rect x="255.00" y="39.80" width="4.30" height="18.20" fill="#c50f2c"/>
<line x1="255.00" y1="48.00" x2="259.30" y2="48.00" stroke="#8a0a1a" stroke-width="0.45" stroke-opacity="0.6"/>
<line x1="261.75" y1="35.20" x2="261.75" y2="42.00" stroke="#9a9a9a" stroke-width="0.6"/>
<line x1="260.65" y1="35.20" x2="262.85" y2="35.20" stroke="#9a9a9a" stroke-width="0.6"/>
<line x1="261.75" y1="53.70" x2="261.75" y2="62.20" stroke="#9a9a9a" stroke-width="0.6"/>
<line x1="260.65" y1="62.20" x2="262.85" y2="62.20" stroke="#9a9a9a" stroke-width="0.6"/>
<rect x="259.30" y="42.00" width="4.90" height="11.70" fill="#f59b1c"/>
<line x1="259.30" y1="47.00" x2="264.20" y2="47.00" stroke="#b06010" stroke-width="0.45" stroke-opacity="0.6"/>
<line x1="266.60" y1="30.30" x2="266.60" y2="34.90" stroke="#9a9a9a" stroke-width="0.6"/>
<line x1="265.50" y1="30.30" x2="267.70" y2="30.30" stroke="#9a9a9a" stroke-width="0.6"/>
<line x1="266.60" y1="65.60" x2="266.60" y2="73.20" stroke="#9a9a9a" stroke-width="0.6"/>
<line x1="265.50" y1="73.20" x2="267.70" y2="73.20" stroke="#9a9a9a" stroke-width="0.6"/>
<rect x="264.20" y="34.90" width="4.80" height="30.70" fill="#18498a"/>
<line x1="264.20" y1="46.00" x2="269.00" y2="46.00" stroke="#0a2a50" stroke-width="0.45" stroke-opacity="0.6"/>
<line x1="287.45" y1="29.90" x2="287.45" y2="37.80" stroke="#9a9a9a" stroke-width="0.6"/>
<line x1="286.35" y1="29.90" x2="288.55" y2="29.90" stroke="#9a9a9a" stroke-width="0.6"/>
<line x1="287.45" y1="54.70" x2="287.45" y2="64.80" stroke="#9a9a9a" stroke-width="0.6"/>
<line x1="286.35" y1="64.80" x2="288.55" y2="64.80" stroke="#9a9a9a" stroke-width="0.6"/>
<rect x="285.00" y="37.80" width="4.90" height="16.90" fill="#c50f2c"/>
<line x1="285.00" y1="44.50" x2="289.90" y2="44.50" stroke="#8a0a1a" stroke-width="0.45" stroke-opacity="0.6"/>
<line x1="292.40" y1="29.90" x2="292.40" y2="35.60" stroke="#9a9a9a" stroke-width="0.6"/>
<line x1="291.30" y1="29.90" x2="293.50" y2="29.90" stroke="#9a9a9a" stroke-width="0.6"/>
<line x1="292.40" y1="56.50" x2="292.40" y2="72.20" stroke="#9a9a9a" stroke-width="0.6"/>
<line x1="291.30" y1="72.20" x2="293.50" y2="72.20" stroke="#9a9a9a" stroke-width="0.6"/>
<rect x="289.90" y="35.60" width="5.00" height="20.90" fill="#f59b1c"/>
<line x1="289.90" y1="42.50" x2="294.90" y2="42.50" stroke="#b06010" stroke-width="0.45" stroke-opacity="0.6"/>
<line x1="297.35" y1="29.90" x2="297.35" y2="39.80" stroke="#9a9a9a" stroke-width="0.6"/>
<line x1="296.25" y1="29.90" x2="298.45" y2="29.90" stroke="#9a9a9a" stroke-width="0.6"/>
<line x1="297.35" y1="50.20" x2="297.35" y2="56.00" stroke="#9a9a9a" stroke-width="0.6"/>
<line x1="296.25" y1="56.00" x2="298.45" y2="56.00" stroke="#9a9a9a" stroke-width="0.6"/>
<rect x="294.90" y="39.80" width="4.90" height="10.40" fill="#18498a"/>
<line x1="294.90" y1="44.00" x2="299.80" y2="44.00" stroke="#0a2a50" stroke-width="0.45" stroke-opacity="0.6"/>
<line x1="318.25" y1="37.10" x2="318.25" y2="47.00" stroke="#9a9a9a" stroke-width="0.6"/>
<line x1="317.15" y1="37.10" x2="319.35" y2="37.10" stroke="#9a9a9a" stroke-width="0.6"/>
<line x1="318.25" y1="73.90" x2="318.25" y2="75.20" stroke="#9a9a9a" stroke-width="0.6"/>
<line x1="317.15" y1="75.20" x2="319.35" y2="75.20" stroke="#9a9a9a" stroke-width="0.6"/>
<rect x="316.00" y="47.00" width="4.50" height="26.90" fill="#c50f2c"/>
<line x1="316.00" y1="61.00" x2="320.50" y2="61.00" stroke="#8a0a1a" stroke-width="0.45" stroke-opacity="0.6"/>
<line x1="322.90" y1="41.00" x2="322.90" y2="47.90" stroke="#9a9a9a" stroke-width="0.6"/>
<line x1="321.80" y1="41.00" x2="324.00" y2="41.00" stroke="#9a9a9a" stroke-width="0.6"/>
<line x1="322.90" y1="73.90" x2="322.90" y2="81.20" stroke="#9a9a9a" stroke-width="0.6"/>
<line x1="321.80" y1="81.20" x2="324.00" y2="81.20" stroke="#9a9a9a" stroke-width="0.6"/>
<rect x="320.50" y="47.90" width="4.80" height="26.00" fill="#f59b1c"/>
<line x1="320.50" y1="61.00" x2="325.30" y2="61.00" stroke="#b06010" stroke-width="0.45" stroke-opacity="0.6"/>
<line x1="327.75" y1="29.80" x2="327.75" y2="42.80" stroke="#9a9a9a" stroke-width="0.6"/>
<line x1="326.65" y1="29.80" x2="328.85" y2="29.80" stroke="#9a9a9a" stroke-width="0.6"/>
<line x1="327.75" y1="75.50" x2="327.75" y2="93.50" stroke="#9a9a9a" stroke-width="0.6"/>
<line x1="326.65" y1="93.50" x2="328.85" y2="93.50" stroke="#9a9a9a" stroke-width="0.6"/>
<rect x="325.30" y="42.80" width="4.90" height="32.70" fill="#18498a"/>
<line x1="325.30" y1="61.00" x2="330.20" y2="61.00" stroke="#0a2a50" stroke-width="0.45" stroke-opacity="0.6"/>
<circle cx="297.40" cy="69.00" r="0.75" fill="#fff" stroke="#666" stroke-width="0.5"/>
<line x1="298.00" y1="68.40" x2="299.00" y2="67.40" stroke="#777" stroke-width="0.5"/>
<circle cx="299.40" cy="67.00" r="0.75" fill="#fff" stroke="#666" stroke-width="0.5"/>
<circle cx="287.30" cy="80.20" r="0.75" fill="#fff" stroke="#666" stroke-width="0.5"/>
<line x1="287.90" y1="79.60" x2="288.90" y2="78.60" stroke="#777" stroke-width="0.5"/>
<text x="288.80" y="78.60" font-size="4.2" fill="#555">20</text>
<circle cx="292.10" cy="99.30" r="0.75" fill="#fff" stroke="#666" stroke-width="0.5"/>
<line x1="292.70" y1="98.70" x2="293.70" y2="97.70" stroke="#777" stroke-width="0.5"/>
<text x="293.60" y="97.70" font-size="4.2" fill="#555">20</text>
<rect x="214.80" y="146.50" width="5.60" height="5.40" fill="#b5121b"/>
<text x="223.50" y="151.30" font-size="5.9" textLength="115.60" lengthAdjust="spacingAndGlyphs">PedsQL 4.0 Generic Core Scale: Total score</text>
<rect x="214.80" y="155.80" width="5.60" height="5.40" fill="#f7941d"/>
<text x="223.50" y="160.60" font-size="5.9" textLength="91.60" lengthAdjust="spacingAndGlyphs">Psychosocial health summary score</text>
<rect x="214.80" y="165.40" width="5.60" height="5.40" fill="#174277"/>
<text x="223.50" y="170.20" font-size="5.9" textLength="79.20" lengthAdjust="spacingAndGlyphs">Physical health summary score</text>
<line x1="218.20" y1="218.50" x2="218.20" y2="316.40" stroke="#3a3a3a" stroke-width="1.35"/>
<line x1="215.60" y1="226.70" x2="218.20" y2="226.70" stroke="#333" stroke-width="1.05"/>
<text x="212.60" y="228.80" font-size="6" text-anchor="end" fill="#333">100</text>
<line x1="215.60" y1="243.52" x2="218.20" y2="243.52" stroke="#333" stroke-width="1.05"/>
<text x="212.60" y="245.62" font-size="6" text-anchor="end" fill="#333">80</text>
<line x1="215.60" y1="260.34" x2="218.20" y2="260.34" stroke="#333" stroke-width="1.05"/>
<text x="212.60" y="262.44" font-size="6" text-anchor="end" fill="#333">60</text>
<line x1="215.60" y1="277.16" x2="218.20" y2="277.16" stroke="#333" stroke-width="1.05"/>
<text x="212.60" y="279.26" font-size="6" text-anchor="end" fill="#333">40</text>
<line x1="215.60" y1="293.98" x2="218.20" y2="293.98" stroke="#333" stroke-width="1.05"/>
<text x="212.60" y="296.08" font-size="6" text-anchor="end" fill="#333">20</text>
<line x1="215.60" y1="310.80" x2="218.20" y2="310.80" stroke="#333" stroke-width="1.05"/>
<text x="212.60" y="312.90" font-size="6" text-anchor="end" fill="#333">0</text>
<line x1="217.60" y1="315.80" x2="340.50" y2="315.80" stroke="#3a3a3a" stroke-width="1.35"/>
<line x1="232.00" y1="315.80" x2="232.00" y2="318.00" stroke="#333" stroke-width="1.0"/>
<text x="232.00" y="327.30" font-size="6.3" text-anchor="middle" fill="#333">SS</text>
<line x1="263.70" y1="315.80" x2="263.70" y2="318.00" stroke="#333" stroke-width="1.0"/>
<text x="263.70" y="327.30" font-size="6.3" text-anchor="middle" fill="#333">MFB</text>
<line x1="295.50" y1="315.80" x2="295.50" y2="318.00" stroke="#333" stroke-width="1.0"/>
<text x="295.50" y="327.30" font-size="6.3" text-anchor="middle" fill="#333">MS RO–</text>
<line x1="327.30" y1="315.80" x2="327.30" y2="318.00" stroke="#333" stroke-width="1.0"/>
<text x="327.30" y="327.30" font-size="6.3" text-anchor="middle" fill="#333">MS RO+</text>
<text x="246.80" y="337.50" font-size="7.8" fill="#1e1e1e" stroke="#1e1e1e" stroke-width="0.3" textLength="66.50" lengthAdjust="spacingAndGlyphs">Maximum extent of disease</text>
<g transform="translate(187.20 268.00) rotate(-90)"><text x="0" y="0" font-size="7.0" text-anchor="middle" fill="#222" stroke="#222" stroke-width="0.32" textLength="82.00" lengthAdjust="spacingAndGlyphs">PedsQL multidimensional fatigue</text></g>
<g transform="translate(196.40 269.00) rotate(-90)"><text x="0" y="0" font-size="7.0" text-anchor="middle" fill="#222" stroke="#222" stroke-width="0.32" textLength="46.60" lengthAdjust="spacingAndGlyphs">scale: total fatigue</text></g>
<line x1="226.35" y1="229.70" x2="226.35" y2="234.70" stroke="#9a9a9a" stroke-width="0.6"/>
<line x1="225.25" y1="229.70" x2="227.45" y2="229.70" stroke="#9a9a9a" stroke-width="0.6"/>
<line x1="226.35" y1="257.50" x2="226.35" y2="277.00" stroke="#9a9a9a" stroke-width="0.6"/>
<line x1="225.25" y1="277.00" x2="227.45" y2="277.00" stroke="#9a9a9a" stroke-width="0.6"/>
<rect x="224.40" y="234.70" width="3.90" height="22.80" fill="#c50f2c"/>
<line x1="224.40" y1="246.00" x2="228.30" y2="246.00" stroke="#8a0a1a" stroke-width="0.45" stroke-opacity="0.6"/>
<line x1="230.20" y1="226.40" x2="230.20" y2="233.50" stroke="#9a9a9a" stroke-width="0.6"/>
<line x1="229.10" y1="226.40" x2="231.30" y2="226.40" stroke="#9a9a9a" stroke-width="0.6"/>
<line x1="230.20" y1="255.50" x2="230.20" y2="279.60" stroke="#9a9a9a" stroke-width="0.6"/>
<line x1="229.10" y1="279.60" x2="231.30" y2="279.60" stroke="#9a9a9a" stroke-width="0.6"/>
<rect x="228.30" y="233.50" width="3.80" height="22.00" fill="#f59b1c"/>
<line x1="228.30" y1="246.00" x2="232.10" y2="246.00" stroke="#b06010" stroke-width="0.45" stroke-opacity="0.6"/>
<line x1="234.00" y1="232.20" x2="234.00" y2="244.10" stroke="#9a9a9a" stroke-width="0.6"/>
<line x1="232.90" y1="232.20" x2="235.10" y2="232.20" stroke="#9a9a9a" stroke-width="0.6"/>
<line x1="234.00" y1="268.70" x2="234.00" y2="287.20" stroke="#9a9a9a" stroke-width="0.6"/>
<line x1="232.90" y1="287.20" x2="235.10" y2="287.20" stroke="#9a9a9a" stroke-width="0.6"/>
<rect x="232.10" y="244.10" width="3.80" height="24.60" fill="#18498a"/>
<line x1="232.10" y1="252.00" x2="235.90" y2="252.00" stroke="#0a2a50" stroke-width="0.45" stroke-opacity="0.6"/>
<line x1="237.80" y1="258.00" x2="237.80" y2="276.30" stroke="#9a9a9a" stroke-width="0.6"/>
<line x1="236.70" y1="276.30" x2="238.90" y2="276.30" stroke="#9a9a9a" stroke-width="0.6"/>
<rect x="235.90" y="225.90" width="3.80" height="32.10" fill="#3aa935"/>
<line x1="235.90" y1="242.50" x2="239.70" y2="242.50" stroke="#1a6a1a" stroke-width="0.45" stroke-opacity="0.6"/>
<line x1="257.95" y1="237.30" x2="257.95" y2="241.60" stroke="#9a9a9a" stroke-width="0.6"/>
<line x1="256.85" y1="237.30" x2="259.05" y2="237.30" stroke="#9a9a9a" stroke-width="0.6"/>
<line x1="257.95" y1="268.20" x2="257.95" y2="272.00" stroke="#9a9a9a" stroke-width="0.6"/>
<line x1="256.85" y1="272.00" x2="259.05" y2="272.00" stroke="#9a9a9a" stroke-width="0.6"/>
<rect x="256.00" y="241.60" width="3.90" height="26.60" fill="#c50f2c"/>
<line x1="256.00" y1="253.00" x2="259.90" y2="253.00" stroke="#8a0a1a" stroke-width="0.45" stroke-opacity="0.6"/>
<line x1="261.80" y1="229.70" x2="261.80" y2="237.00" stroke="#9a9a9a" stroke-width="0.6"/>
<line x1="260.70" y1="229.70" x2="262.90" y2="229.70" stroke="#9a9a9a" stroke-width="0.6"/>
<line x1="261.80" y1="266.90" x2="261.80" y2="279.60" stroke="#9a9a9a" stroke-width="0.6"/>
<line x1="260.70" y1="279.60" x2="262.90" y2="279.60" stroke="#9a9a9a" stroke-width="0.6"/>
<rect x="259.90" y="237.00" width="3.80" height="29.90" fill="#f59b1c"/>
<line x1="259.90" y1="250.50" x2="263.70" y2="250.50" stroke="#b06010" stroke-width="0.45" stroke-opacity="0.6"/>
<line x1="265.60" y1="228.00" x2="265.60" y2="231.50" stroke="#9a9a9a" stroke-width="0.6"/>
<line x1="264.50" y1="228.00" x2="266.70" y2="228.00" stroke="#9a9a9a" stroke-width="0.6"/>
<line x1="265.60" y1="256.00" x2="265.60" y2="272.70" stroke="#9a9a9a" stroke-width="0.6"/>
<line x1="264.50" y1="272.70" x2="266.70" y2="272.70" stroke="#9a9a9a" stroke-width="0.6"/>
<rect x="263.70" y="231.50" width="3.80" height="24.50" fill="#18498a"/>
<line x1="263.70" y1="240.00" x2="267.50" y2="240.00" stroke="#0a2a50" stroke-width="0.45" stroke-opacity="0.6"/>
<line x1="269.35" y1="240.30" x2="269.35" y2="251.00" stroke="#9a9a9a" stroke-width="0.6"/>
<line x1="268.25" y1="240.30" x2="270.45" y2="240.30" stroke="#9a9a9a" stroke-width="0.6"/>
<line x1="269.35" y1="287.20" x2="269.35" y2="307.40" stroke="#9a9a9a" stroke-width="0.6"/>
<line x1="268.25" y1="307.40" x2="270.45" y2="307.40" stroke="#9a9a9a" stroke-width="0.6"/>
<rect x="267.50" y="251.00" width="3.70" height="36.20" fill="#3aa935"/>
<line x1="267.50" y1="262.00" x2="271.20" y2="262.00" stroke="#1a6a1a" stroke-width="0.45" stroke-opacity="0.6"/>
<line x1="289.50" y1="228.90" x2="289.50" y2="238.30" stroke="#9a9a9a" stroke-width="0.6"/>
<line x1="288.40" y1="228.90" x2="290.60" y2="228.90" stroke="#9a9a9a" stroke-width="0.6"/>
<line x1="289.50" y1="261.80" x2="289.50" y2="273.20" stroke="#9a9a9a" stroke-width="0.6"/>
<line x1="288.40" y1="273.20" x2="290.60" y2="273.20" stroke="#9a9a9a" stroke-width="0.6"/>
<rect x="287.60" y="238.30" width="3.80" height="23.50" fill="#c50f2c"/>
<line x1="287.60" y1="250.00" x2="291.40" y2="250.00" stroke="#8a0a1a" stroke-width="0.45" stroke-opacity="0.6"/>
<line x1="293.35" y1="226.40" x2="293.35" y2="233.50" stroke="#9a9a9a" stroke-width="0.6"/>
<line x1="292.25" y1="226.40" x2="294.45" y2="226.40" stroke="#9a9a9a" stroke-width="0.6"/>
<line x1="293.35" y1="271.90" x2="293.35" y2="279.50" stroke="#9a9a9a" stroke-width="0.6"/>
<line x1="292.25" y1="279.50" x2="294.45" y2="279.50" stroke="#9a9a9a" stroke-width="0.6"/>
<rect x="291.40" y="233.50" width="3.90" height="38.40" fill="#f59b1c"/>
<line x1="291.40" y1="245.00" x2="295.30" y2="245.00" stroke="#b06010" stroke-width="0.45" stroke-opacity="0.6"/>
<line x1="297.25" y1="232.20" x2="297.25" y2="240.30" stroke="#9a9a9a" stroke-width="0.6"/>
<line x1="296.15" y1="232.20" x2="298.35" y2="232.20" stroke="#9a9a9a" stroke-width="0.6"/>
<line x1="297.25" y1="257.50" x2="297.25" y2="268.60" stroke="#9a9a9a" stroke-width="0.6"/>
<line x1="296.15" y1="268.60" x2="298.35" y2="268.60" stroke="#9a9a9a" stroke-width="0.6"/>
<rect x="295.30" y="240.30" width="3.90" height="17.20" fill="#18498a"/>
<line x1="295.30" y1="248.00" x2="299.20" y2="248.00" stroke="#0a2a50" stroke-width="0.45" stroke-opacity="0.6"/>
<line x1="301.15" y1="261.80" x2="301.15" y2="293.90" stroke="#9a9a9a" stroke-width="0.6"/>
<line x1="300.05" y1="293.90" x2="302.25" y2="293.90" stroke="#9a9a9a" stroke-width="0.6"/>
<rect x="299.20" y="226.10" width="3.90" height="35.70" fill="#3aa935"/>
<line x1="299.20" y1="247.50" x2="303.10" y2="247.50" stroke="#1a6a1a" stroke-width="0.45" stroke-opacity="0.6"/>
<line x1="321.50" y1="229.40" x2="321.50" y2="246.60" stroke="#9a9a9a" stroke-width="0.6"/>
<line x1="320.40" y1="229.40" x2="322.60" y2="229.40" stroke="#9a9a9a" stroke-width="0.6"/>
<rect x="319.80" y="246.60" width="3.40" height="37.90" fill="#c50f2c"/>
<line x1="319.80" y1="265.00" x2="323.20" y2="265.00" stroke="#8a0a1a" stroke-width="0.45" stroke-opacity="0.6"/>
<line x1="325.05" y1="232.70" x2="325.05" y2="249.90" stroke="#9a9a9a" stroke-width="0.6"/>
<line x1="323.95" y1="232.70" x2="326.15" y2="232.70" stroke="#9a9a9a" stroke-width="0.6"/>
<line x1="325.05" y1="277.00" x2="325.05" y2="292.90" stroke="#9a9a9a" stroke-width="0.6"/>
<line x1="323.95" y1="292.90" x2="326.15" y2="292.90" stroke="#9a9a9a" stroke-width="0.6"/>
<rect x="323.20" y="249.90" width="3.70" height="27.10" fill="#f59b1c"/>
<line x1="323.20" y1="263.00" x2="326.90" y2="263.00" stroke="#b06010" stroke-width="0.45" stroke-opacity="0.6"/>
<line x1="328.75" y1="229.70" x2="328.75" y2="249.10" stroke="#9a9a9a" stroke-width="0.6"/>
<line x1="327.65" y1="229.70" x2="329.85" y2="229.70" stroke="#9a9a9a" stroke-width="0.6"/>
<rect x="326.90" y="249.10" width="3.70" height="44.30" fill="#18498a"/>
<line x1="326.90" y1="270.00" x2="330.60" y2="270.00" stroke="#0a2a50" stroke-width="0.45" stroke-opacity="0.6"/>
<line x1="332.65" y1="225.90" x2="332.65" y2="240.30" stroke="#9a9a9a" stroke-width="0.6"/>
<line x1="331.55" y1="225.90" x2="333.75" y2="225.90" stroke="#9a9a9a" stroke-width="0.6"/>
<line x1="332.65" y1="282.80" x2="332.65" y2="293.40" stroke="#9a9a9a" stroke-width="0.6"/>
<line x1="331.55" y1="293.40" x2="333.75" y2="293.40" stroke="#9a9a9a" stroke-width="0.6"/>
<rect x="330.60" y="240.30" width="4.10" height="42.50" fill="#3aa935"/>
<line x1="330.60" y1="262.00" x2="334.70" y2="262.00" stroke="#1a6a1a" stroke-width="0.45" stroke-opacity="0.6"/>
<circle cx="328.70" cy="297.20" r="0.80" fill="#fff" stroke="#888" stroke-width="0.4"/>
<rect x="223.40" y="347.10" width="5.60" height="5.40" fill="#b5121b"/>
<text x="232.00" y="351.50" font-size="6.1" textLength="104.20" lengthAdjust="spacingAndGlyphs">PedsQL Multidimensional Fatigue Scale:</text>
<text x="232.00" y="358.30" font-size="6.1" textLength="31.00" lengthAdjust="spacingAndGlyphs">Total fatigue</text>
<rect x="223.40" y="363.70" width="5.60" height="5.40" fill="#f7941d"/>
<text x="232.00" y="367.90" font-size="6.1" textLength="55.20" lengthAdjust="spacingAndGlyphs">General fatigue score</text>
<rect x="223.40" y="372.80" width="5.60" height="5.40" fill="#174277"/>
<text x="232.00" y="377.00" font-size="6.1" textLength="63.30" lengthAdjust="spacingAndGlyphs">Sleep/Rest fatigue score</text>
<rect x="223.40" y="382.50" width="5.60" height="5.40" fill="#3aa935"/>
<text x="232.00" y="386.70" font-size="6.1" textLength="61.10" lengthAdjust="spacingAndGlyphs">Cognitive Fatigue score</text>
</svg>
</body></html>
